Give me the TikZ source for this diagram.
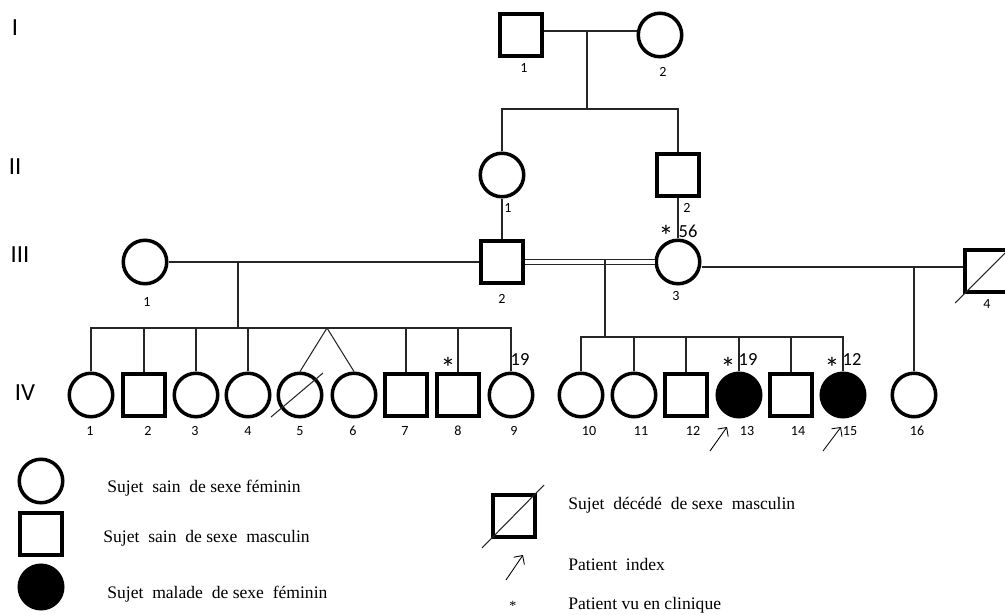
\documentclass[tikz,border=0pt]{standalone}
\usepackage{fontspec}
\setmainfont{Liberation Serif}
\newfontfamily\pedfont{Carlito}
\usetikzlibrary{arrows.meta}

\begin{document}
\begin{tikzpicture}[
  x=0.02cm, y=-0.02cm,
  fem/.style={circle, draw, line width=2pt, minimum size=0.87cm, inner sep=0pt},
  masc/.style={rectangle, draw, line width=2pt, minimum size=0.85cm, inner sep=0pt},
  sick/.style={fem, fill=black},
  ln/.style={line width=0.6pt, black!85},
  num/.style={font=\pedfont\fontsize{8}{9}\selectfont, inner sep=0pt},
  age/.style={font=\pedfont\fontsize{10.5}{11}\selectfont, inner sep=0pt},
  ast/.style={font=\pedfont\fontsize{17}{18}\selectfont, inner sep=0pt},
  gen/.style={font=\pedfont\fontsize{14}{15}\selectfont, inner sep=0pt},
  legtxt/.style={font=\fontsize{10}{12}\selectfont, anchor=base west, inner sep=0pt},
  idx/.style={-{Straight Barb[length=1.3mm]}, line width=0.5pt},
]
\useasboundingbox (0,0) rectangle (1005,615);

% generations
\node[gen] (g1) at (15,28) {I};
\node[gen] (g2) at (15,167) {II};
\node[gen] (g3) at (20,255) {III};
\node[gen] (g4) at (25,393) {IV};

% generation I
\node[masc] (i1) at (521,35) {};
\node[fem] (i2) at (660,35) {};
\node[num] (l-i1) at (524,68) {1};
\node[num] (l-i2) at (663,72) {2};
\coordinate (m1) at (587,31);
\coordinate (s1) at (587,109);
\draw[ln] (i1.east |- m1) -- (i2.west |- m1);
\draw[ln] (m1) -- (s1);

% generation II
\node[fem] (ii1) at (502,175) {};
\node[masc] (ii2) at (678,175) {};
\node[num] (l-ii1) at (508,208) {1};
\node[num] (l-ii2) at (687,208) {2};
\draw[ln] (ii1.north) |- (s1) -| (ii2.north);

% generation III
\node[fem] (iii1) at (145,262) {};
\node[masc] (iii2) at (502,262) {};
\node[fem] (iii3) at (678,262) {};
\node[masc] (iii4) at (986,271) {};
\node[num] (l-iii1) at (147,302) {1};
\node[num] (l-iii2) at (502,299) {2};
\node[num] (l-iii3) at (676,296) {3};
\node[num] (l-iii4) at (987,304) {4};
\node[ast] (a-iii3) at (666,236) {*};
\node[age] (y-iii3) at (688,231) {56};
\draw[ln] (ii1.south) -- (iii2.north);
\draw[ln] (ii2.south) -- (iii3.north);
\draw[ln] (iii1) -- (iii2);
\draw[ln, double, double distance=1.8pt] (iii2) -- (iii3);
\coordinate (m3) at (914,267);
\draw[ln] (iii3.east |- m3) -- (iii4.west |- m3);
\coordinate (d4a) at (955,303);
\coordinate (d4b) at (1012,246);
\draw[ln] (d4a) -- (d4b);

% generation IV
\node[fem] (iv1) at (91,395) {};
\node[masc] (iv2) at (144,395) {};
\node[fem] (iv3) at (196,395) {};
\node[fem] (iv4) at (248,395) {};
\node[fem] (iv5) at (300,395) {};
\node[fem] (iv6) at (354,395) {};
\node[masc] (iv7) at (406,395) {};
\node[masc] (iv8) at (458,395) {};
\node[fem] (iv9) at (511,395) {};
\node[fem] (iv10) at (581,395) {};
\node[fem] (iv11) at (634,395) {};
\node[masc] (iv12) at (686,395) {};
\node[sick] (iv13) at (739,395) {};
\node[masc] (iv14) at (791,395) {};
\node[sick] (iv15) at (843,395) {};
\node[fem] (iv16) at (914,395) {};
\node[num] (l-iv1) at (90,431) {1};
\node[num] (l-iv2) at (148,431) {2};
\node[num] (l-iv3) at (195,431) {3};
\node[num] (l-iv4) at (248,431) {4};
\node[num] (l-iv5) at (300,431) {5};
\node[num] (l-iv6) at (353,431) {6};
\node[num] (l-iv7) at (405,431) {7};
\node[num] (l-iv8) at (458,431) {8};
\node[num] (l-iv9) at (514,431) {9};
\node[num] (l-iv10) at (589,431) {10};
\node[num] (l-iv11) at (641,431) {11};
\node[num] (l-iv12) at (693,431) {12};
\node[num] (l-iv13) at (747,431) {13};
\node[num] (l-iv14) at (798,431) {14};
\node[num] (l-iv15) at (850,431) {15};
\node[num] (l-iv16) at (917,431) {16};
\node[ast] (a-iv8) at (448,368) {*};
\node[age] (y-iv9) at (520,360) {19};
\node[ast] (a-iv13) at (728,368) {*};
\node[age] (y-iv13) at (748,360) {19};
\node[ast] (a-iv15) at (832,368) {*};
\node[age] (y-iv15) at (852,360) {12};

% sibships
\coordinate (m2) at (238,262);
\coordinate (s2) at (238,328);
\coordinate (tw) at (327,328);
\draw[ln] (m2) -- (s2);
\draw[ln] (iv1.north) |- (iv9.north |- s2) -- (iv9.north);
\draw[ln] (iv2.north) -- (iv2.north |- s2);
\draw[ln] (iv3.north) -- (iv3.north |- s2);
\draw[ln] (iv4.north) -- (iv4.north |- s2);
\draw[ln] (iv7.north) -- (iv7.north |- s2);
\draw[ln] (iv8.north) -- (iv8.north |- s2);
\draw[ln] (iv5.north) -- (tw) -- (iv6.north);
\coordinate (d5a) at (271,417);
\coordinate (d5b) at (323,373);
\draw[ln] (d5a) -- (d5b);

\coordinate (m4) at (605,260);
\coordinate (s3) at (605,337);
\draw[ln] (m4) -- (s3);
\draw[ln] (iv10.north) |- (iv15.north |- s3) -- (iv15.north);
\draw[ln] (iv11.north) -- (iv11.north |- s3);
\draw[ln] (iv12.north) -- (iv12.north |- s3);
\draw[ln] (iv13.north) -- (iv13.north |- s3);
\draw[ln] (iv14.north) -- (iv14.north |- s3);
\draw[ln] (m3) -- (iv16.north);

% index patients
\coordinate (p13a) at (710,451);
\coordinate (p13b) at (727,427);
\coordinate (p15a) at (823,451);
\coordinate (p15b) at (841,427);
\draw[idx] (p13a) -- (p13b);
\draw[idx] (p15a) -- (p15b);

% legend
\node[fem] (k-fem) at (41,481) {};
\node[masc] (k-masc) at (41,534) {};
\node[sick] (k-sick) at (41,587) {};
\node[masc] (k-dec) at (514,516) {};
\coordinate (k-da) at (482,548);
\coordinate (k-db) at (544,485);
\draw[ln] (k-da) -- (k-db);
\coordinate (k-ia) at (506,580);
\coordinate (k-ib) at (523,555);
\draw[idx] (k-ia) -- (k-ib);
\node[font=\fontsize{8}{9}\selectfont, inner sep=0pt] (k-ast) at (513,606) {*};
\node[legtxt] (t-fem) at (107,492) {Sujet\ \ sain\ \ de sexe féminin};
\node[legtxt] (t-masc) at (103,542) {Sujet\ \ sain\ \ de sexe\ \ masculin};
\node[legtxt] (t-sick) at (107,598) {Sujet\ \ malade\ \ de sexe\ \ féminin};
\node[legtxt] (t-dec) at (568,509) {Sujet\ \ décédé\ \ de sexe\ \ masculin};
\node[legtxt] (t-idx) at (568,570) {Patient\ \ index};
\node[legtxt] (t-vu) at (568,609) {Patient vu en clinique};
\end{tikzpicture}
\end{document}
